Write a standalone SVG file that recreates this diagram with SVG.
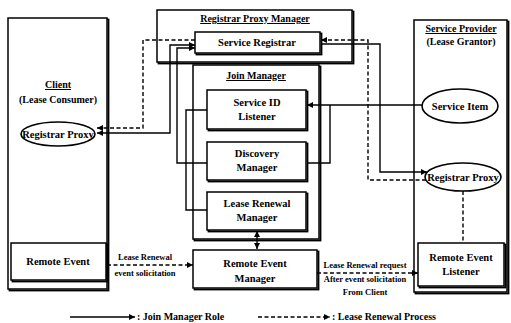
<svg xmlns="http://www.w3.org/2000/svg" width="511" height="323" viewBox="0 0 511 323">
<style>
.box{fill:#fff;stroke:#000;stroke-width:1.5}
.sh{fill:none;stroke:#000;stroke-width:1.8}
.ell{fill:#fff;stroke:#000;stroke-width:1.6}
.t{font-family:"Liberation Serif","Times New Roman",serif;font-weight:bold;font-size:10.5px;text-anchor:middle;fill:#000}
.ti{font-family:"Liberation Serif","Times New Roman",serif;font-weight:bold;font-size:10px;text-anchor:middle;fill:#000;text-decoration:underline}
.s{font-family:"Liberation Serif","Times New Roman",serif;font-weight:bold;font-size:8.5px;text-anchor:middle;fill:#000}
.lg{font-family:"Liberation Serif","Times New Roman",serif;font-weight:bold;font-size:10px;fill:#000}
.c{fill:none;stroke:#000;stroke-width:1.4}
.d{fill:none;stroke:#000;stroke-width:1.4;stroke-dasharray:4 2.5}
</style>
<defs>
<marker id="ah" viewBox="0 0 10 10" refX="10" refY="5" markerWidth="6" markerHeight="6" markerUnits="userSpaceOnUse" orient="auto-start-reverse">
<path d="M0,0 L10,5 L0,10 z" fill="#000"/>
</marker>
</defs>
<rect width="511" height="323" fill="#fff"/>

<g id="client">
<rect class="sh" x="9.5" y="19.5" width="99" height="271"/>
<rect class="box" x="8" y="18" width="99" height="271"/>
<text class="ti" x="58" y="88">Client</text>
<text class="t" x="58" y="103" style="font-size:10px">(Lease Consumer)</text>
</g>
<g id="client-registrar-proxy">
<ellipse class="ell" cx="58" cy="134" rx="37" ry="12"/>
<text class="t" x="58" y="138">Registrar Proxy</text>
</g>
<g id="client-remote-event">
<rect class="sh" x="12.5" y="244.5" width="95" height="37"/>
<rect class="box" x="11" y="243" width="95" height="37"/>
<text class="t" x="58" y="265">Remote Event</text>
</g>

<g id="registrar-proxy-manager">
<rect class="sh" x="158.5" y="11.5" width="195" height="52"/>
<rect class="box" x="157" y="10" width="195" height="52"/>
<text class="ti" x="255" y="22">Registrar Proxy Manager</text>
</g>
<g id="service-registrar">
<rect class="sh" x="196.5" y="33.5" width="125" height="21"/>
<rect class="box" x="195" y="32" width="125" height="21"/>
<text class="t" x="257" y="46">Service Registrar</text>
</g>

<g id="join-manager">
<rect class="sh" x="194.5" y="66.5" width="126" height="174"/>
<rect class="box" x="193" y="65" width="126" height="174"/>
<text class="ti" x="256" y="79">Join Manager</text>
</g>
<g id="service-id-listener">
<rect class="sh" x="208.5" y="91.5" width="99" height="39"/>
<rect class="box" x="207" y="90" width="99" height="39"/>
<text class="t" x="257" y="106">Service ID</text>
<text class="t" x="257" y="120">Listener</text>
</g>
<g id="discovery-manager">
<rect class="sh" x="208.5" y="143.5" width="99" height="38"/>
<rect class="box" x="207" y="142" width="99" height="38"/>
<text class="t" x="257" y="157">Discovery</text>
<text class="t" x="257" y="171">Manager</text>
</g>
<g id="lease-renewal-manager">
<rect class="sh" x="208.5" y="193.5" width="99" height="38"/>
<rect class="box" x="207" y="192" width="99" height="38"/>
<text class="t" x="257" y="207">Lease Renewal</text>
<text class="t" x="257" y="221">Manager</text>
</g>
<g id="remote-event-manager">
<rect class="sh" x="194.5" y="251.5" width="124" height="38"/>
<rect class="box" x="193" y="250" width="124" height="38"/>
<text class="t" x="255" y="267">Remote Event</text>
<text class="t" x="255" y="282">Manager</text>
</g>

<g id="service-provider">
<rect class="sh" x="415.5" y="21.5" width="93" height="272"/>
<rect class="box" x="414" y="20" width="93" height="272"/>
<text class="ti" x="461" y="32">Service Provider</text>
<text class="t" x="461" y="45" style="font-size:10px">(Lease Grantor)</text>
</g>
<g id="service-item">
<ellipse class="ell" cx="460" cy="106" rx="38" ry="17"/>
<text class="t" x="460" y="110">Service Item</text>
</g>
<g id="provider-registrar-proxy">
<ellipse class="ell" cx="463" cy="177" rx="38" ry="14"/>
<text class="t" x="463" y="181">Registrar Proxy</text>
</g>
<g id="remote-event-listener">
<rect class="sh" x="419.5" y="244.5" width="86" height="43"/>
<rect class="box" x="418" y="243" width="86" height="43"/>
<text class="t" x="461" y="261">Remote Event</text>
<text class="t" x="461" y="275">Listener</text>
</g>

<g id="connectors">
<path class="c" d="M97,133 H170 V45 H195" marker-start="url(#ah)" marker-end="url(#ah)"/>
<path class="d" d="M143,40 V128 H97" marker-end="url(#ah)"/>
<path class="d" d="M195,40 H143"/>
<path class="c" d="M207,163 H177 V48 H195" marker-end="url(#ah)"/>
<path class="c" d="M207,110 H186 V210 H207"/>
<path class="c" d="M422,105 H307" marker-end="url(#ah)"/>
<path class="c" d="M330,105 V163 H307"/>
<path class="c" d="M321,44 H380 V172 H427" marker-end="url(#ah)"/>
<path class="d" d="M426,180 H368 V40 H321" marker-end="url(#ah)"/>
<path class="d" d="M463,191 V243"/>
<path class="c" d="M257,231 V249" marker-start="url(#ah)" marker-end="url(#ah)"/>
<path class="d" d="M107,265 H193" marker-end="url(#ah)"/>
<path class="d" d="M317,273 H418" marker-end="url(#ah)"/>
<text class="s" x="145" y="260">Lease Renewal</text>
<text class="s" x="145" y="276">event solicitation</text>
<text class="s" x="365" y="268">Lease Renewal request</text>
<text class="s" x="365" y="282">After event solicitation</text>
<text class="s" x="365" y="295">From Client</text>
</g>

<g id="legend">
<path class="c" d="M70,317 H135" marker-end="url(#ah)"/>
<text class="lg" x="137" y="320">: Join Manager Role</text>
<path class="d" d="M258,317 H330" marker-end="url(#ah)"/>
<text class="lg" x="332" y="320">: Lease Renewal Process</text>
</g>
</svg>
